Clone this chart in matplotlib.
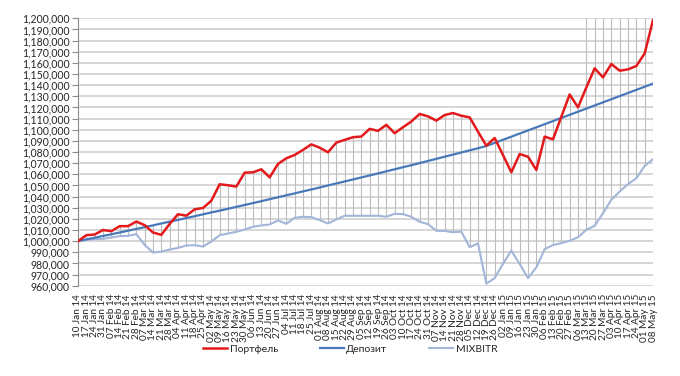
"""
Portfolio vs deposit vs MIXBITR, weekly, plot and save
"""

import matplotlib
matplotlib.use('Agg')
import matplotlib.pyplot as plt
from matplotlib.ticker import FuncFormatter, MultipleLocator
import numpy as np

plt.rcParams['font.family'] = ['Lato', 'DejaVu Sans']

dates = ['10 Jan 14', '17 Jan 14', '24 Jan 14', '31 Jan 14', '07 Feb 14', '14 Feb 14', '21 Feb 14',
         '28 Feb 14', '07 Mar 14', '14 Mar 14', '21 Mar 14', '28 Mar 14', '04 Apr 14', '11 Apr 14',
         '18 Apr 14', '25 Apr 14', '02 May 14', '09 May 14', '16 May 14', '23 May 14', '30 May 14',
         '06 Jun 14', '13 Jun 14', '20 Jun 14', '27 Jun 14', '04 Jul 14', '11 Jul 14', '18 Jul 14',
         '25 Jul 14', '01 Aug 14', '08 Aug 14', '15 Aug 14', '22 Aug 14', '29 Aug 14', '05 Sep 14',
         '12 Sep 14', '19 Sep 14', '26 Sep 14', '03 Oct 14', '10 Oct 14', '17 Oct 14', '24 Oct 14',
         '31 Oct 14', '07 Nov 14', '14 Nov 14', '21 Nov 14', '28 Nov 14', '05 Dec 14', '12 Dec 14',
         '19 Dec 14', '26 Dec 14', '02 Jan 15', '09 Jan 15', '16 Jan 15', '23 Jan 15', '30 Jan 15',
         '06 Feb 15', '13 Feb 15', '20 Feb 15', '27 Feb 15', '06 Mar 15', '13 Mar 15', '20 Mar 15',
         '27 Mar 15', '03 Apr 15', '10 Apr 15', '17 Apr 15', '24 Apr 15', '01 May 15', '08 May 15']

portfel = [1000000, 1005400, 1006000, 1010000, 1009000, 1013500, 1013500, 1017600, 1014400, 1007800,
           1005700, 1015500, 1024200, 1022900, 1028600, 1029800, 1036300, 1051100, 1050200, 1049000,
           1061500, 1061800, 1064500, 1057300, 1069300, 1074400, 1077400, 1081900, 1086900, 1083900,
           1079800, 1088500, 1090900, 1093300, 1093900, 1100800, 1099000, 1104400, 1096900, 1102300,
           1107400, 1114200, 1112000, 1108200, 1113200, 1115000, 1112600, 1111100, 1098300, 1085700,
           1092600, 1077300, 1061800, 1078200, 1075800, 1063900, 1093800, 1091400, 1111700, 1131700,
           1120100, 1138000, 1155100, 1147000, 1159000, 1153000, 1154200, 1157200, 1168500, 1198400]

depozit = [1000000, 1001600, 1003100, 1004700, 1006200, 1007800, 1009400, 1011000, 1012600, 1014200,
           1015900, 1017500, 1019100, 1020800, 1022400, 1024100, 1025800, 1027400, 1029100, 1030800,
           1032500, 1034200, 1035900, 1037700, 1039400, 1041200, 1042900, 1044700, 1046400, 1048200,
           1050000, 1051800, 1053600, 1055400, 1057200, 1059000, 1060800, 1062700, 1064500, 1066400,
           1068200, 1070100, 1072000, 1073900, 1075800, 1077700, 1079600, 1081500, 1083400, 1085400,
           1088200, 1091000, 1093800, 1096600, 1099400, 1102200, 1105000, 1107800, 1110600, 1113400,
           1116200, 1119000, 1121800, 1124600, 1127400, 1130200, 1133000, 1135800, 1138600, 1141400]

mixbitr = [1000000, 1001200, 1001800, 1002100, 1003300, 1004500, 1004800, 1006300, 996700, 989800,
           990700, 992500, 994000, 996100, 996400, 995200, 999700, 1005400, 1006900, 1008400,
           1010500, 1012900, 1014100, 1015000, 1018600, 1015600, 1021000, 1021900, 1021600, 1018900,
           1015900, 1019500, 1022800, 1022800, 1022800, 1022800, 1022800, 1021900, 1024600, 1024300,
           1021900, 1017400, 1015300, 1009300, 1009200, 1008000, 1008600, 994600, 998000, 961900,
           966900, 979800, 991500, 979500, 966900, 976500, 992900, 996500, 998300, 1000400,
           1003500, 1010200, 1013800, 1025100, 1037100, 1044600, 1051200, 1056500, 1067600, 1073600]

# weeks where the high-low lines run up to the top of the chart
top_from = 61


def main():
    x = np.arange(len(dates))
    p = np.array(portfel)
    d = np.array(depozit)
    m = np.array(mixbitr)

    fig = plt.figure(figsize=(6.8, 3.76), dpi=100)
    ax = fig.add_axes([0.1147, 0.24, 0.8456, 0.7113])

    ymin, ymax = 960000, 1200000

    # horizontal gridlines
    for v in range(ymin, ymax + 1, 10000):
        ax.axhline(v, color='#d0d0d0', lw=1.2, zorder=0)

    # high-low lines
    hi = np.maximum(np.maximum(p, d), m)
    lo = np.minimum(np.minimum(p, d), m)
    hi = np.where(x >= top_from, ymax, hi)
    ax.vlines(x, lo, hi, color='#bdbdbd', lw=0.8, zorder=1)

    ax.plot(x, m, color='#a3b5d8', lw=1.5, label='MIXBITR', zorder=2)
    ax.plot(x, d, color='#4878b8', lw=1.6, label='Депозит', zorder=3)
    ax.plot(x, p, color='#e3191b', lw=1.8, label='Портфель', zorder=4)

    ax.set_xlim(0, len(dates) - 1)
    ax.set_ylim(ymin, ymax)
    ax.yaxis.set_major_locator(MultipleLocator(10000))
    ax.yaxis.set_major_formatter(FuncFormatter(lambda v, pos: '{:,.0f}'.format(v)))
    ax.set_xticks(x)
    ax.set_xticklabels(dates, rotation=90, fontsize=7.2, color='#262626')
    ax.tick_params(axis='x', length=0, pad=6)
    ax.tick_params(axis='y', labelsize=7.6, length=4, color='#8c8c8c', pad=2,
                   labelcolor='#262626')

    for s in ['top', 'right', 'bottom']:
        ax.spines[s].set_visible(False)
    ax.spines['left'].set_color('#8c8c8c')
    ax.spines['left'].set_linewidth(0.8)

    h, l = ax.get_legend_handles_labels()
    order = [2, 1, 0]
    leg = fig.legend([h[i] for i in order], [l[i] for i in order], loc='center',
                     bbox_to_anchor=(0.515, 0.072), ncol=3, frameon=False,
                     prop={'family': ['Lato', 'DejaVu Sans'], 'size': 7.5},
                     handlelength=2.3, handletextpad=0.25, columnspacing=4.0)
    for t in leg.get_texts():
        t.set_color('#262626')

    plt.savefig('out.png', dpi=100)
    plt.close()


if __name__ == '__main__':
    main()
